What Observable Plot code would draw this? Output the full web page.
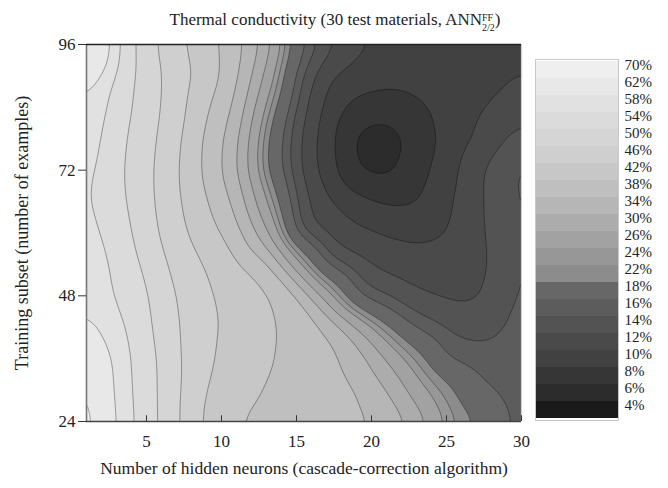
<!DOCTYPE html>
<html><head><meta charset="utf-8">
<script src="https://cdn.jsdelivr.net/npm/d3@7"></script>
<script src="https://cdn.jsdelivr.net/npm/@observablehq/plot@0.6"></script>
<style>
html,body{margin:0;padding:0;background:#fff;}
#wrap{position:relative;width:668px;height:488px;font-family:"Liberation Serif","DejaVu Serif",serif;color:#222;overflow:hidden;}
#title{position:absolute;left:0;top:10px;width:670px;text-align:center;font-size:17px;line-height:20px;white-space:nowrap;}
.ss{display:inline-block;vertical-align:-0.55em;font-size:10px;line-height:10px;text-align:left;}
.ss span{display:block;}
#main{position:absolute;left:0;top:0;}
#legend{position:absolute;left:535px;top:59px;}
</style></head><body>
<div id="wrap">
  <div id="main"></div>
  <div id="legend"></div>
  <div id="title">Thermal conductivity (30 test materials, ANN<span class="ss"><span>FF</span><span>2/2</span></span>)</div>
</div>
<script>
// Grid columns (number of hidden neurons) and rows (training subset)
const xs = [1, 3, 5, 7, 9, 11, 13, 15, 17, 19, 21, 23, 25, 27, 29, 30];
const ys = [96, 90, 84, 78, 72, 66, 60, 54, 48, 42, 36, 30, 24];
// Error values (%), one row per training subset
const row96 = [74, 58, 51.5, 47, 43.5, 39.5, 32.5, 19.5, 14.6, 12.4, 11.5, 11.2, 11, 11, 11.2, 11.3];
const row90 = [66, 57, 52.2, 48, 44.5, 39, 29, 16.5, 12.2, 11.1, 10.8, 11, 11.1, 11.3, 11.7, 12.1];
const row84 = [61.5, 56.3, 52, 47.8, 42.5, 37.5, 25, 15.2, 11.4, 9.3, 8.7, 9.3, 10.8, 11.7, 12.6, 13.4];
const row78 = [60.5, 55.3, 51.5, 47, 41.2, 35.5, 22, 14.3, 10.9, 7.4, 6.9, 8.6, 10.6, 12.1, 14, 14.8];
const row72 = [59.5, 54.9, 51.1, 46.5, 41.1, 34.9, 21.5, 14.2, 11, 7.8, 7.4, 9.2, 11, 13.6, 15.6, 16.6];
const row66 = [59, 55.3, 51.2, 46.7, 42.4, 37.3, 26, 15.1, 12.4, 10.7, 9.7, 9.8, 11.6, 13.6, 15.4, 16.5];
const row60 = [59.5, 56.3, 51.8, 47.3, 43.8, 39.9, 31.2, 15.5, 13.4, 12.4, 11.8, 11.6, 12, 13.4, 15.4, 16.3];
const row54 = [60.5, 57.2, 53.1, 48.7, 45.7, 42.7, 39.6, 27, 16.5, 14.6, 13.2, 12.6, 12.6, 13.2, 15.2, 16.6];
const row48 = [61, 57.6, 54.5, 49.8, 46.6, 44.2, 42.5, 39.3, 27.5, 17.2, 15.8, 14.3, 13.6, 13.6, 15.5, 16.5];
const row42 = [63.5, 59.4, 54.9, 50.4, 46.7, 45, 43, 40.5, 38.2, 30.4, 22.4, 17.2, 15.6, 15.2, 16.1, 16.8];
const row36 = [70.5, 60, 55.8, 50.6, 46.6, 44.4, 42.6, 40.5, 39.3, 36.5, 30, 23.5, 17.5, 16.8, 16.8, 17];
const row30 = [72, 60.3, 55.9, 50.7, 45.7, 43.7, 41.7, 40.2, 39.4, 38.4, 34.5, 28, 23.2, 18.5, 17.2, 17];
const row24 = [74, 60.8, 56.1, 50.6, 45.1, 42, 41.2, 40.4, 39.6, 38.8, 37.4, 32.8, 25.4, 22, 18, 17.3];
const rows = [row96, row90, row84, row78, row72, row66, row60, row54, row48, row42, row36, row30, row24];

// Contour levels and legend
const levels = [4, 6, 8, 10, 12, 14, 16, 18, 22, 24, 26, 30, 34, 38, 42, 46, 50, 54, 58, 62, 70];
const grays = ["#1a1a1a", "#2c2c2c", "#363636", "#414141", "#4a4a4a", "#535353", "#5c5c5c", "#676767",
               "#8c8c8c", "#979797", "#a2a2a2", "#acacac", "#b6b6b6", "#bfbfbf", "#c7c7c7", "#cfcfcf",
               "#d5d5d5", "#dbdbdb", "#e1e1e1", "#e8e8e8", "#efefef"];
const legendLabels = levels.map(d => d + "%");

const xTicks = [5, 10, 15, 20, 25, 30];
const yTicks = [24, 48, 72, 96];
const xLabel = "Number of hidden neurons (cascade-correction algorithm)";
const yLabel = "Training subset (number of examples)";

const points = [];
ys.forEach((y, i) => xs.forEach((x, j) => points.push({x, y, v: rows[i][j]})));

const main = Plot.plot({
  width: 668, height: 488,
  marginLeft: 86, marginRight: 147, marginTop: 44, marginBottom: 67,
  style: {fontFamily: "Liberation Serif, serif", fontSize: "17px", color: "#222", background: "transparent"},
  x: {domain: [1, 30]},
  y: {domain: [24, 96]},
  color: {type: "threshold", domain: levels.slice(1), range: grays},
  marks: [
    Plot.contour(points, {
      x: "x", y: "y", value: "v", fill: "value",
      thresholds: levels, interpolate: "barycentric", pixelSize: 2, blur: 5,
      stroke: "#000", strokeOpacity: 0.38, strokeWidth: 0.9
    }),
    Plot.ruleX([30], {stroke: "#cfcfcf", strokeWidth: 1.2}),
    Plot.ruleX([1], {stroke: "#777", strokeWidth: 1.6}),
    Plot.ruleY([96], {stroke: "#222", strokeWidth: 1.3}),
    Plot.ruleY([24], {stroke: "#444", strokeWidth: 1.3}),
    Plot.ruleX(xTicks, {y1: 24, y2: 25.1, stroke: "#333", strokeWidth: 1}),
    Plot.axisY({ticks: yTicks, tickSize: 8, tickPadding: 3, label: null, fontSize: 17, stroke: "#333"}),
    Plot.axisX({ticks: xTicks, tickSize: 0, tickPadding: 13, label: null, fontSize: 17}),
    Plot.text([yLabel], {frameAnchor: "left", dx: -64, rotate: -90, textAnchor: "middle", fontSize: 18, fill: "#222"}),
    Plot.text([xLabel], {frameAnchor: "bottom", dy: 52, textAnchor: "middle", fontSize: 17.5, fill: "#222"})
  ]
});
document.getElementById("main").appendChild(main);

const legendData = levels.map((t, i) => ({label: legendLabels[i], color: grays[i]})).reverse();
const legend = Plot.plot({
  width: 133, height: 362,
  marginLeft: 0, marginRight: 50, marginTop: 0, marginBottom: 1,
  style: {fontFamily: "Liberation Serif, serif", fontSize: "14px", color: "#222", background: "transparent", overflow: "visible"},
  x: {domain: [0, 1], axis: null},
  y: {type: "band", domain: legendData.map(d => d.label), padding: 0, axis: null},
  marks: [
    Plot.barX(legendData, {x1: 0, x2: 1, y: "label", fill: "color"}),
    Plot.frame({stroke: "#c8c8c8", strokeWidth: 1}),
    Plot.text(legendData, {x: 1, y: "label", text: "label", dx: 6, dy: -5, textAnchor: "start", fontSize: 15, fill: "#222"})
  ]
});
document.getElementById("legend").appendChild(legend);
</script>
</body></html>
